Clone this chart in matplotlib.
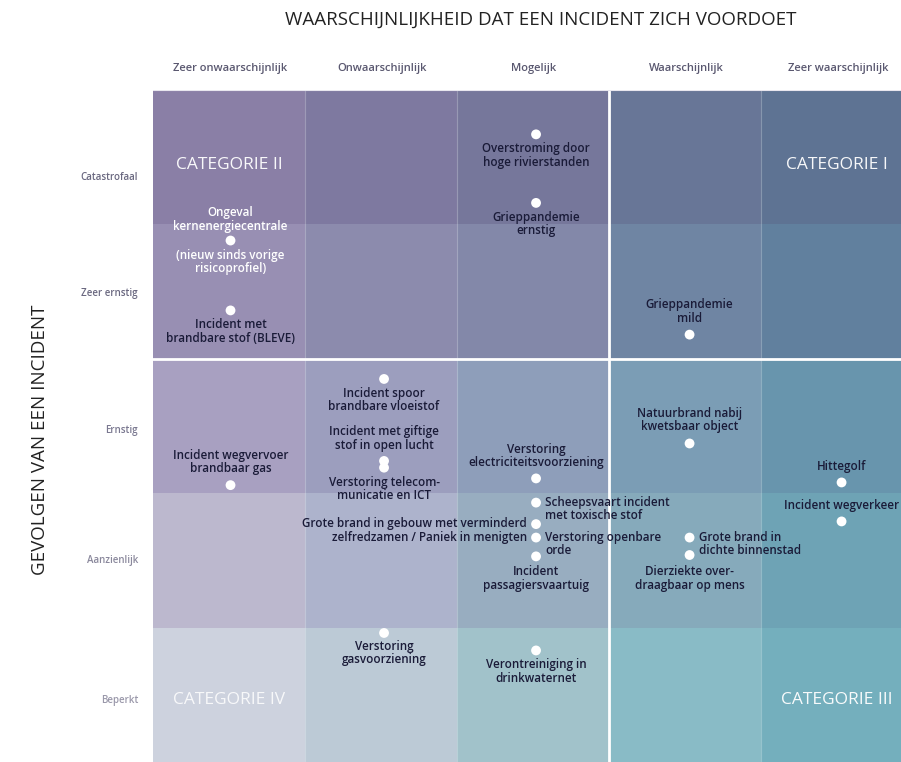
import matplotlib
matplotlib.use("Agg")
import matplotlib.pyplot as plt
from matplotlib.patches import Rectangle

# ---------------- data ----------------
likelihood_labels = ["Zeer onwaarschijnlijk", "Onwaarschijnlijk", "Mogelijk",
                     "Waarschijnlijk", "Zeer waarschijnlijk"]
impact_labels = ["Beperkt", "Aanzienlijk", "Ernstig", "Zeer ernstig", "Catastrofaal"]

incident_names = [
    "Ongeval\nkernenergiecentrale",
    "Incident met\nbrandbare stof (BLEVE)",
    "Overstroming door\nhoge rivierstanden",
    "Grieppandemie\nernstig",
    "Grieppandemie\nmild",
    "Incident wegvervoer\nbrandbaar gas",
    "Incident spoor\nbrandbare vloeistof",
    "Incident met giftige\nstof in open lucht",
    "Verstoring telecom-\nmunicatie en ICT",
    "Verstoring\nelectriciteitsvoorziening",
    "Scheepsvaart incident\nmet toxische stof",
    "Grote brand in gebouw met verminderd\nzelfredzamen / Paniek in menigten",
    "Verstoring openbare\norde",
    "Incident\npassagiersvaartuig",
    "Natuurbrand nabij\nkwetsbaar object",
    "Grote brand in\ndichte binnenstad",
    "Dierziekte over-\ndraagbaar op mens",
    "Hittegolf",
    "Incident wegverkeer",
    "Verstoring\ngasvoorziening",
    "Verontreiniging in\ndrinkwaternet",
]
incident_likelihood = [0.51, 0.51, 2.52, 2.52, 3.53, 0.51, 1.52, 1.52, 1.52, 2.52, 2.52,
                       2.52, 2.52, 2.52, 3.53, 3.53, 3.53, 4.53, 4.53, 1.52, 2.52]
incident_impact = [3.88, 3.36, 4.67, 4.16, 3.18, 2.06, 2.85, 2.24, 2.19, 2.11, 1.93,
                   1.77, 1.67, 1.53, 2.37, 1.67, 1.54, 2.08, 1.79, 0.96, 0.83]

categories = ["CATEGORIE I", "CATEGORIE II", "CATEGORIE III", "CATEGORIE IV"]

# cell colours, rows from top (Catastrofaal) to bottom (Beperkt)
cell_colors = [
    ["#8a7fa6", "#7e79a0", "#76779b", "#687697", "#5e7393"],
    ["#988fb3", "#8c8bad", "#8388a9", "#6f85a3", "#61809e"],
    ["#a8a0c1", "#9c9ebe", "#8e9eba", "#7b9db5", "#6895ad"],
    ["#bcb8ce", "#adb3cc", "#98adc0", "#86aabb", "#6ea3b5"],
    ["#cdd2de", "#bccad6", "#a1c2ca", "#89bbc6", "#74afbd"],
]

# ---------------- layout / style ----------------
W, H = 901, 762
fig = plt.figure(figsize=(W / 100, H / 100), dpi=100)
ax = fig.add_axes([153 / W, 0, (W - 153) / W, (H - 90) / H])
XMAX = 748 / 152
ax.set_xlim(0, XMAX)
ax.set_ylim(0, 5)
ax.axis("off")

for r, row in enumerate(cell_colors):
    for c, col in enumerate(row):
        ax.add_patch(Rectangle((c, 4 - r), 1, 1, facecolor=col, edgecolor="none", zorder=0))

for c in [1, 2, 4]:
    ax.axvline(c, color="#ffffff", lw=0.8, alpha=0.25, zorder=1)
ax.axvline(3, color="white", lw=2, zorder=2)
ax.axhline(3, color="white", lw=2, zorder=2)
ax.axhline(5, color="#e8e6ee", lw=1.5, zorder=2)

txt_font = dict(family=["Open Sans", "DejaVu Sans"])
label_color = "#1a1b38"
LFS = 8.4
LSP = 1.05

ax.scatter(incident_likelihood, incident_impact, s=50, color="white", edgecolors="none", zorder=5)

# placement per incident: (dx px, dy px, ha, va)
place = {
    0: (0, 8, "center", "bottom"),
    1: (0, -8, "center", "top"),
    2: (0, -8, "center", "top"),
    3: (0, -8, "center", "top"),
    4: (0, 10, "center", "bottom"),
    5: (0, 10, "center", "bottom"),
    6: (0, -8, "center", "top"),
    7: (0, 9, "center", "bottom"),
    8: (0, -8, "center", "top"),
    9: (0, 9, "center", "bottom"),
    10: (9, 7, "left", "top"),
    11: (-9, 7, "right", "top"),
    12: (9, 7, "left", "top"),
    13: (0, -9, "center", "top"),
    14: (0, 10, "center", "bottom"),
    15: (9, 7, "left", "top"),
    16: (0, -10, "center", "top"),
    17: (0, 9, "center", "bottom"),
    18: (0, 9, "center", "bottom"),
    19: (0, -7, "center", "top"),
    20: (0, -8, "center", "top"),
}
for i, name in enumerate(incident_names):
    dx, dy, ha, va = place[i]
    col = "white" if i == 0 else label_color
    ax.annotate(name, (incident_likelihood[i], incident_impact[i]),
                xytext=(dx * 0.72, dy * 0.72), textcoords="offset points",
                ha=ha, va=va, fontsize=LFS, color=col, weight="semibold",
                linespacing=LSP, zorder=6, **txt_font)
ax.annotate("(nieuw sinds vorige\nrisicoprofiel)", (incident_likelihood[0], incident_impact[0]),
            xytext=(0, -8 * 0.72), textcoords="offset points", ha="center", va="top",
            fontsize=LFS, color="white", weight="semibold", linespacing=LSP, zorder=6, **txt_font)

# category labels
cat_pos = {"CATEGORIE I": (4.5, 4.44), "CATEGORIE II": (0.5, 4.44),
           "CATEGORIE III": (4.5, 0.46), "CATEGORIE IV": (0.5, 0.46)}
for cname in categories:
    cx, cy = cat_pos[cname]
    ax.text(cx, cy, cname, ha="center", va="center", fontsize=12.5, color="white",
            alpha=0.95 if cname != "CATEGORIE IV" else 0.85, zorder=6, **txt_font)

# column headers
for c, lab in enumerate(likelihood_labels):
    x = (153 + 152 * c + 77) / W if c < 4 else 838 / W
    fig.text(x, 1 - 68 / H, lab, ha="center", va="center", fontsize=8,
             color="#5a5870", weight="semibold", **txt_font)

# row labels
row_y = {"Catastrofaal": 178, "Zeer ernstig": 293, "Ernstig": 431, "Aanzienlijk": 561, "Beperkt": 700}
row_col = {"Catastrofaal": "#6a6880", "Zeer ernstig": "#6a6880", "Ernstig": "#7a7890",
           "Aanzienlijk": "#8a889c", "Beperkt": "#9a98aa"}
for lab in impact_labels:
    fig.text(138 / W, 1 - row_y[lab] / H, lab, ha="right", va="center", fontsize=7,
             color=row_col[lab], weight="semibold", **txt_font)

fig.text(541 / W, 1 - 20 / H, "WAARSCHIJNLIJKHEID DAT EEN INCIDENT ZICH VOORDOET",
         ha="center", va="center", fontsize=13.5, color="#222222", **txt_font)
fig.text(40 / W, 1 - 440 / H, "GEVOLGEN VAN EEN INCIDENT", ha="center", va="center",
         rotation=90, fontsize=13.5, color="#222222", **txt_font)

fig.savefig("out.png", dpi=100)
